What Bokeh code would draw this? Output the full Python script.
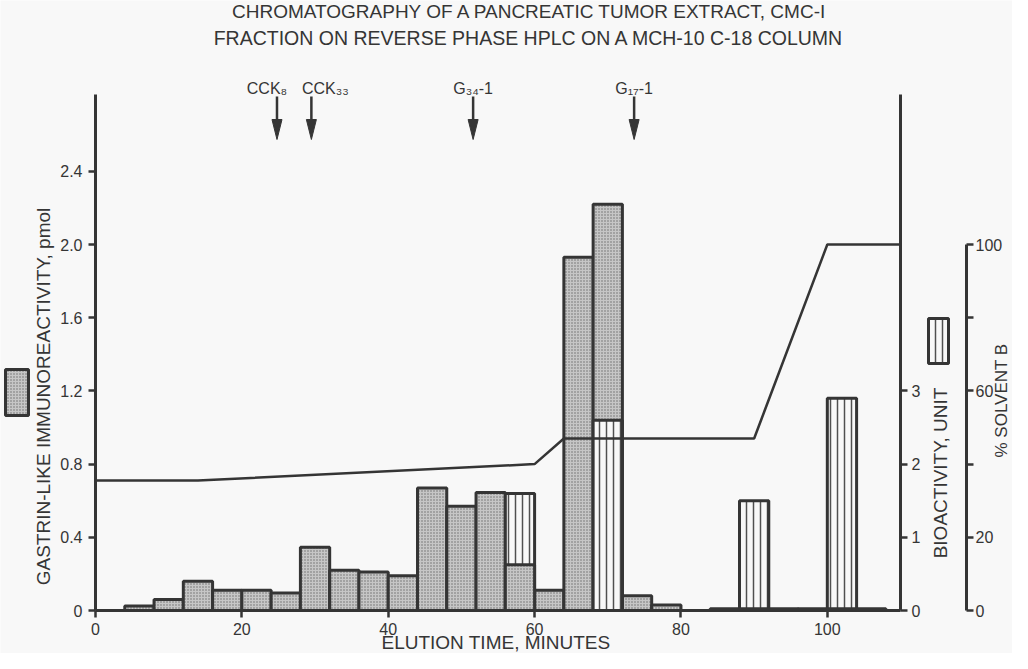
import numpy as np
from bokeh.plotting import figure
from bokeh.models import (Range1d, LinearAxis, FixedTicker, CustomJSTickFormatter,
                          Label, BoxAnnotation)
from bokeh.embed import file_html
from bokeh.resources import INLINE

# ---------------- data ----------------
bin_start = [4, 8, 12, 16, 20, 24, 28, 32, 36, 40, 44, 48, 52, 56, 60, 64,
             68, 72, 76, 80, 84, 88, 92, 96, 100, 104]
immuno_pmol = [0.025, 0.06, 0.16, 0.11, 0.11, 0.095, 0.345, 0.22, 0.21, 0.19,
               0.67, 0.57, 0.645, 0.25, 0.11, 1.93, 2.22, 0.08, 0.03, 0.0,
               0.01, 0.01, 0.01, 0.01, 0.01, 0.01]
bio_units = [0, 0, 0, 0, 0, 0, 0, 0, 0, 0, 0, 0, 0, 1.6, 0, 0,
             2.6, 0, 0, 0, 0, 1.5, 0, 0, 2.9, 0]
bin_width = 4

solvent_time = [0, 14, 60, 64, 90, 100, 110]
solvent_pct = [35.5, 35.5, 40, 47, 47, 100, 100]

marker_names = ["CCK\u2088", "CCK\u2083\u2083", "G\u2083\u2084-1", "G\u2081\u2087-1"]
marker_time = [24.8, 29.5, 51.6, 73.6]

x_ticks = [0, 20, 40, 60, 80, 100]
y_ticks = [0, 0.4, 0.8, 1.2, 1.6, 2.0, 2.4]
bio_ticks = [0, 1, 2, 3]
solv_ticks = [0, 20, 60, 100]
solv_minor = [40, 80]

title_lines = ["CHROMATOGRAPHY OF A PANCREATIC TUMOR EXTRACT, CMC-I",
               "FRACTION ON REVERSE PHASE HPLC ON A MCH-10 C-18 COLUMN"]
x_label = "ELUTION TIME, MINUTES"
y_label = "GASTRIN-LIKE IMMUNOREACTIVITY, pmol"
bio_label = "BIOACTIVITY, UNIT"
solv_label = "% SOLVENT B"

# ---------------- layout / style ----------------
BG = "#f8f8f8"
INK = "#353535"
FONT = "Liberation Sans"
X_END = 110          # elution time axis end (minutes)
Y_END = 2.82         # immunoreactivity axis end (pmol)
PMOL_PER_UNIT = 0.4  # bioactivity unit drawn at same height as 0.4 pmol
SOLV_PER_UNIT = 20   # 20 % solvent B drawn at same height as 1 unit

# data area in page px: x 103..908, y 102..618 ; canvas = page 8..1020, 8..661
PX_X = 805.0 / X_END
PX_Y = 516.0 / Y_END

def dx(px):
    return (px - 103.0) / PX_X

def dy(py):
    return (618.0 - py) / PX_Y

y0, y1 = dy(661), dy(8)
p = figure(width=1012, height=653, x_range=Range1d(dx(8), dx(1020)), y_range=Range1d(y0, y1),
           output_backend="svg", toolbar_location=None,
           x_axis_location=None, y_axis_location=None,
           min_border_left=0, min_border_right=0, min_border_top=0, min_border_bottom=0,
           background_fill_color=BG, border_fill_color=BG, outline_line_color=None)
p.grid.visible = False
p.extra_y_ranges = {"bio": Range1d(y0 / PMOL_PER_UNIT, y1 / PMOL_PER_UNIT),
                    "solv": Range1d(y0 / PMOL_PER_UNIT * SOLV_PER_UNIT,
                                    y1 / PMOL_PER_UNIT * SOLV_PER_UNIT)}

def style_axis(ax, standoff):
    ax.axis_line_width = 3
    ax.axis_line_color = INK
    ax.major_tick_line_width = 2.5
    ax.major_tick_line_color = INK
    ax.major_tick_in = 0
    ax.major_tick_out = 7
    ax.minor_tick_line_color = None
    ax.major_label_text_font = FONT
    ax.major_label_text_font_size = "16px"
    ax.major_label_text_color = INK
    ax.major_label_standoff = standoff

xa = LinearAxis(ticker=FixedTicker(ticks=x_ticks), bounds=(0, X_END), fixed_location=0)
style_axis(xa, 5)
p.add_layout(xa, "below")

ya = LinearAxis(ticker=FixedTicker(ticks=y_ticks), bounds=(0, Y_END), fixed_location=0,
                formatter=CustomJSTickFormatter(code="return tick === 0 ? '0' : tick.toFixed(1);"))
style_axis(ya, 6)
p.add_layout(ya, "left")

bio_axis = LinearAxis(y_range_name="bio", ticker=FixedTicker(ticks=bio_ticks),
                      bounds=(0, Y_END / PMOL_PER_UNIT), fixed_location=X_END)
style_axis(bio_axis, 4)
p.add_layout(bio_axis, "right")

solv_axis = LinearAxis(y_range_name="solv", bounds=(0, 100), fixed_location=dx(974),
                       ticker=FixedTicker(ticks=solv_ticks, minor_ticks=solv_minor))
style_axis(solv_axis, 2)
solv_axis.minor_tick_line_color = INK
solv_axis.minor_tick_line_width = 2.5
solv_axis.minor_tick_in = 0
solv_axis.minor_tick_out = 7
p.add_layout(solv_axis, "right")

# ---------------- bars ----------------
starts = np.array(bin_start, dtype=float)
centers = starts + bin_width / 2
imm = np.array(immuno_pmol)
bio = np.array(bio_units)
has_imm = imm > 0
has_bio = bio > 0
imm_back = has_imm & (imm >= bio * PMOL_PER_UNIT)
imm_front = has_imm & (imm < bio * PMOL_PER_UNIT)

stip = dict(fill_color="#c6c6c6", hatch_pattern="dot", hatch_scale=3, hatch_weight=1.2,
            hatch_color="#6a6a6a", line_color=INK, line_width=3)
stripe = dict(fill_color=BG, hatch_pattern="vertical_line", hatch_scale=7, hatch_weight=1.5,
              hatch_color="#505050", line_color=INK, line_width=3)

p.vbar(x=centers[imm_back], width=bin_width, top=imm[imm_back], bottom=0, **stip)
p.vbar(x=centers[has_bio], width=bin_width, top=bio[has_bio], bottom=0,
       y_range_name="bio", **stripe)
p.vbar(x=centers[imm_front], width=bin_width, top=imm[imm_front], bottom=0, **stip)

# solvent gradient line
p.line(solvent_time, solvent_pct, y_range_name="solv", line_width=2.5, line_color=INK)

# ---------------- marker arrows ----------------
mt = np.array(marker_time)
p.segment(x0=mt, y0=dy(104), x1=mt, y1=dy(130), line_width=2.5, line_color=INK)
half = 5.0 / PX_X
p.patches(xs=[[t - half, t + half, t] for t in mt],
          ys=[[dy(127), dy(127), dy(147)] for _ in mt],
          fill_color=INK, line_color=INK, line_width=1)
label_offsets = [-10, 14, 0, 0]
for name, t, off in zip(marker_names, marker_time, label_offsets):
    p.add_layout(Label(x=t, y=dy(95.5), x_offset=off, text=name, text_font=FONT,
                       text_font_size="16px", text_color=INK, text_align="center",
                       text_baseline="alphabetic"))

# ---------------- texts ----------------
def txt(x, y, text, size="19px", angle=0):
    p.add_layout(Label(x=x, y=y, text=text, text_font=FONT, text_font_size=size,
                       text_color=INK, text_align="center", text_baseline="middle",
                       angle=angle))

txt(dx(537.5), dy(18.5), title_lines[0], size="19px")
txt(dx(536.5), dy(45.5), title_lines[1], size="19.5px")
txt(dx(503.5), dy(650), x_label)
txt(dx(51), dy(404), y_label, angle=np.pi / 2)
txt(dx(948), dy(480.5), bio_label, angle=np.pi / 2)
txt(dx(1009), dy(408), solv_label, size="17px", angle=np.pi / 2)

# legend icons
p.add_layout(BoxAnnotation(left=dx(13), right=dx(36), top=dy(377), bottom=dy(423),
                           fill_alpha=1, line_alpha=1, **stip))
p.add_layout(BoxAnnotation(left=dx(936), right=dx(956), top=dy(326), bottom=dy(371),
                           fill_alpha=1, line_alpha=1, **stripe))

open("out.html", "w").write(file_html(p, INLINE))
